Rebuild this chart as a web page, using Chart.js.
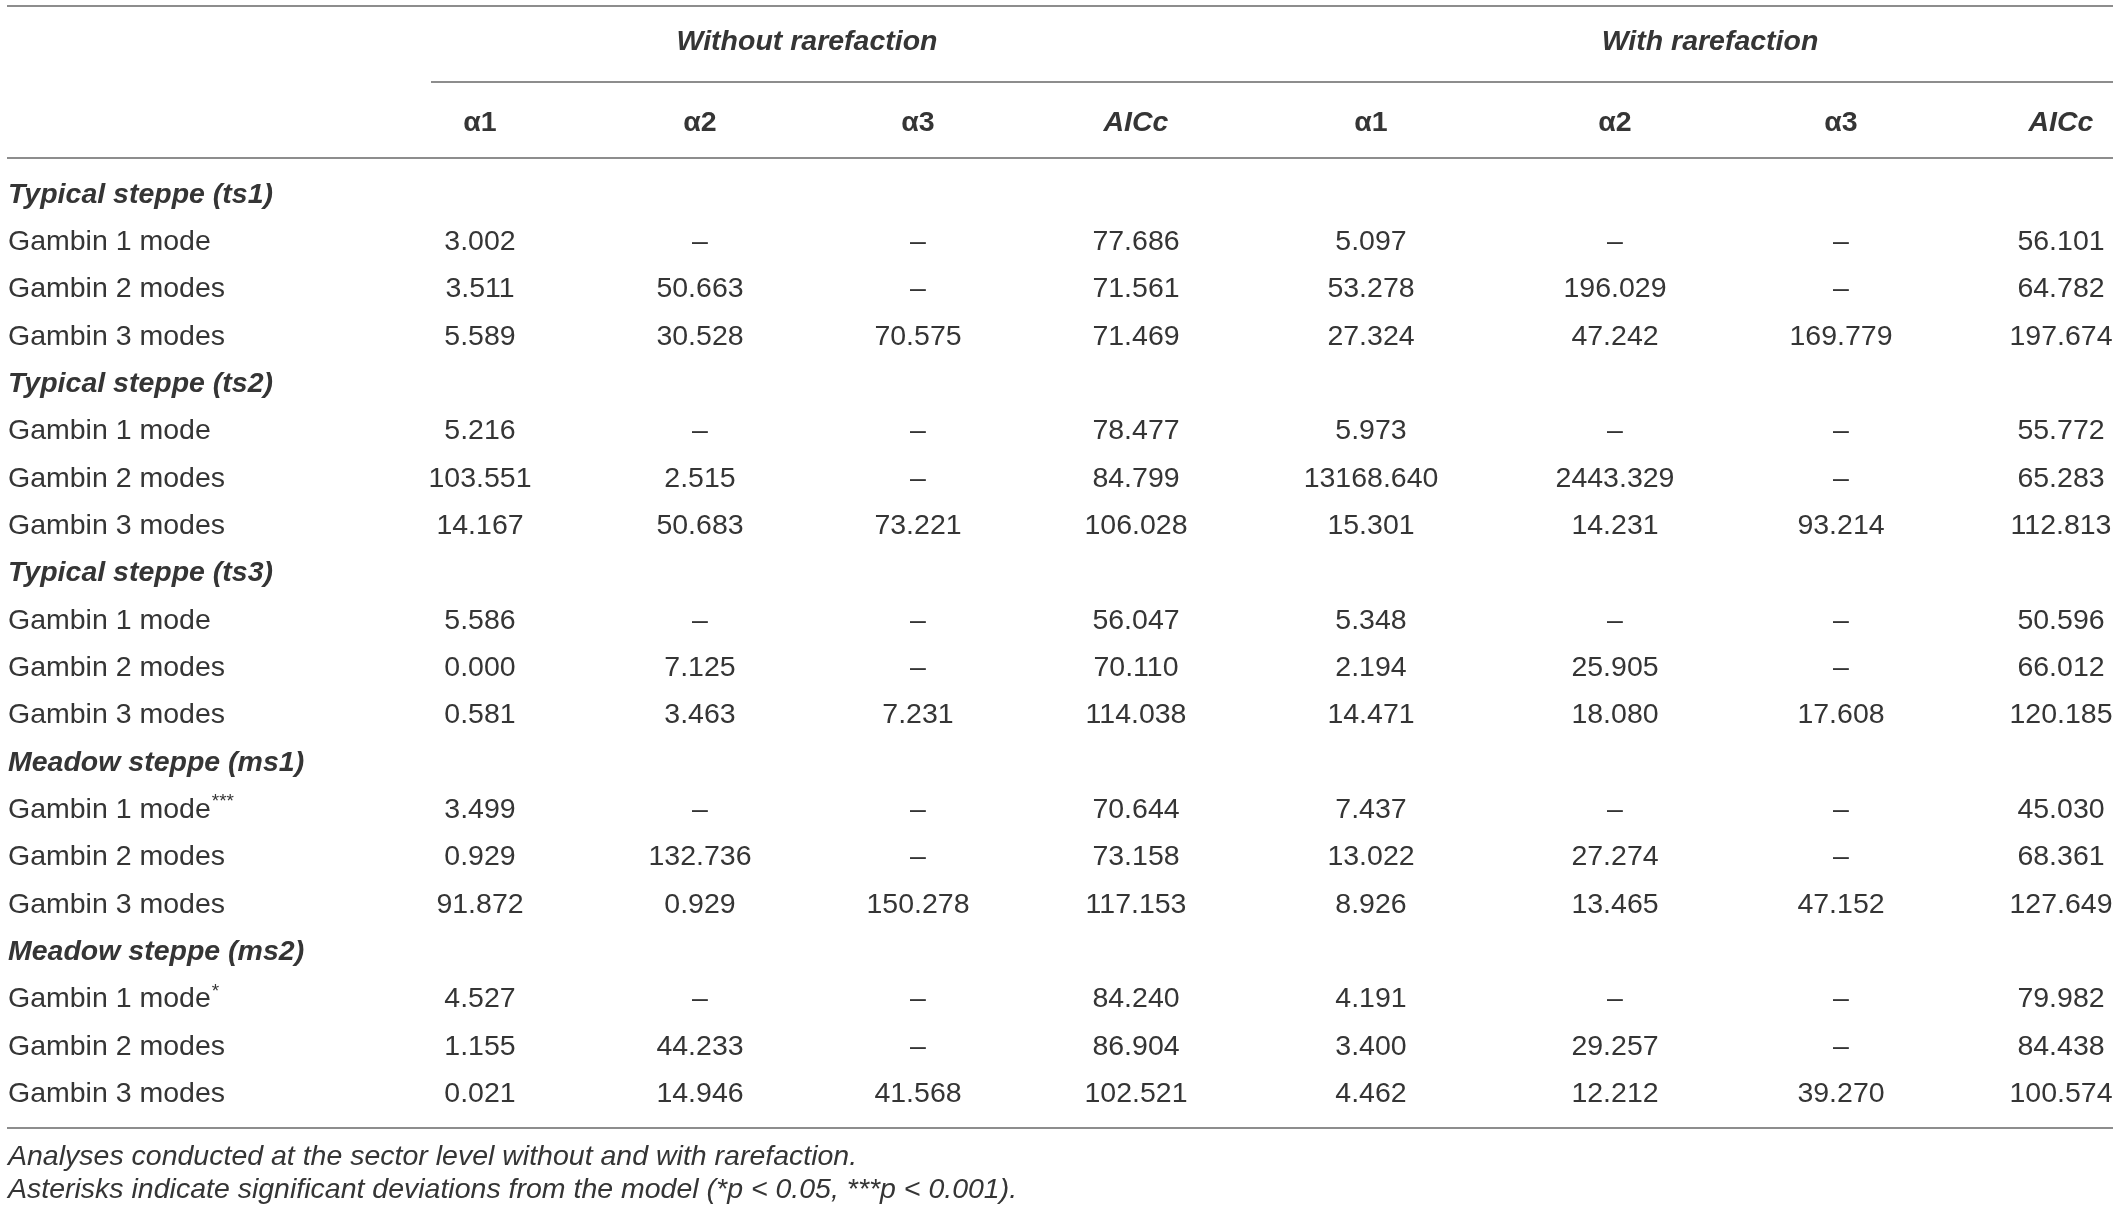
<!DOCTYPE html>
<html>
<head>
<meta charset="utf-8">
<title>Gambin fits</title>
<script src="https://cdn.jsdelivr.net/npm/chart.js@4.4.1/dist/chart.umd.min.js"></script>
<style>
html, body { margin: 0; padding: 0; background: #fff; }
#wrap { width: 2120px; height: 1215px; position: relative; }
</style>
</head>
<body>
<div id="wrap"><canvas id="table"></canvas></div>
<script>
'use strict';

// row structure
var groups = ['Typical steppe (ts1)', 'Typical steppe (ts2)', 'Typical steppe (ts3)', 'Meadow steppe (ms1)', 'Meadow steppe (ms2)'];
var models = ['Gambin 1 mode', 'Gambin 2 modes', 'Gambin 3 modes'];
// significance marks per group, per model
var marks = [['', '', ''], ['', '', ''], ['', '', ''], ['***', '', ''], ['*', '', '']];

// column structure
var columnGroups = ['Without rarefaction', 'With rarefaction'];
var columns = ['α1', 'α2', 'α3', 'AICc'];

// [α1, α2, α3, AICc], null = not estimated
var withoutRarefaction = [
    [[3.002, null, null, 77.686], [3.511, 50.663, null, 71.561], [5.589, 30.528, 70.575, 71.469]],
    [[5.216, null, null, 78.477], [103.551, 2.515, null, 84.799], [14.167, 50.683, 73.221, 106.028]],
    [[5.586, null, null, 56.047], [0.000, 7.125, null, 70.110], [0.581, 3.463, 7.231, 114.038]],
    [[3.499, null, null, 70.644], [0.929, 132.736, null, 73.158], [91.872, 0.929, 150.278, 117.153]],
    [[4.527, null, null, 84.240], [1.155, 44.233, null, 86.904], [0.021, 14.946, 41.568, 102.521]]
];
var withRarefaction = [
    [[5.097, null, null, 56.101], [53.278, 196.029, null, 64.782], [27.324, 47.242, 169.779, 197.674]],
    [[5.973, null, null, 55.772], [13168.640, 2443.329, null, 65.283], [15.301, 14.231, 93.214, 112.813]],
    [[5.348, null, null, 50.596], [2.194, 25.905, null, 66.012], [14.471, 18.080, 17.608, 120.185]],
    [[7.437, null, null, 45.030], [13.022, 27.274, null, 68.361], [8.926, 13.465, 47.152, 127.649]],
    [[4.191, null, null, 79.982], [3.400, 29.257, null, 84.438], [4.462, 12.212, 39.270, 100.574]]
];

var footnotes = [
    'Analyses conducted at the sector level without and with rarefaction.',
    'Asterisks indicate significant deviations from the model (*p < 0.05, ***p < 0.001).'
];

// ---- layout (x in page units, y in row units) ----
var labelX = 8;
var colCenters = [480, 700, 918, 1136, 1371, 1615, 1841, 2061];
var groupCenters = [807, 1710];
var ruleLeft = 7, ruleRight = 2113, groupRuleLeft = 431;
var yTopRule = -3.994, yGroupHead = -3.234, yGroupRule = -2.388, yColHead = -1.522, yHeadRule = -0.782;
var yBottomRule = 19.718, yFoot = [20.33, 21.03];

var FONT = '"Liberation Sans", Arial, Helvetica, sans-serif';
var TEXT = '#353535';
var RULE = '#8d8d8d';

function fmt(v) {
    return v === null ? '\u2013' : v.toFixed(3);
}

var tablePlugin = {
    id: 'tableText',
    afterDraw: function(chart) {
        var ctx = chart.ctx;
        var xs = chart.scales.x, ys = chart.scales.y;
        var px = function(v) { return xs.getPixelForValue(v); };
        var py = function(v) { return ys.getPixelForValue(v); };

        ctx.save();
        // rules
        ctx.strokeStyle = RULE;
        ctx.lineWidth = 2;
        [[ruleLeft, yTopRule], [groupRuleLeft, yGroupRule], [ruleLeft, yHeadRule], [ruleLeft, yBottomRule]].forEach(function(r) {
            var y = Math.round(py(r[1]));
            ctx.beginPath();
            ctx.moveTo(px(r[0]), y);
            ctx.lineTo(px(ruleRight), y);
            ctx.stroke();
        });

        ctx.fillStyle = TEXT;
        ctx.textBaseline = 'middle';

        // column group headers
        ctx.textAlign = 'center';
        ctx.font = 'italic bold 28.5px ' + FONT;
        columnGroups.forEach(function(g, i) {
            ctx.fillText(g, px(groupCenters[i]), py(yGroupHead));
        });

        // column headers
        colCenters.forEach(function(cx, i) {
            var name = columns[i % columns.length];
            ctx.font = (name === 'AICc' ? 'italic ' : '') + 'bold 28.5px ' + FONT;
            ctx.fillText(name, px(cx), py(yColHead));
        });

        // body
        var row = 0;
        groups.forEach(function(g, gi) {
            ctx.textAlign = 'left';
            ctx.font = 'italic bold 28.5px ' + FONT;
            ctx.fillText(g, px(labelX), py(row));
            row++;
            models.forEach(function(m, mi) {
                var y = py(row);
                ctx.textAlign = 'left';
                ctx.font = '28.5px ' + FONT;
                ctx.fillText(m, px(labelX), y);
                if (marks[gi][mi]) {
                    var w = ctx.measureText(m).width;
                    ctx.font = '19px ' + FONT;
                    ctx.fillText(marks[gi][mi], px(labelX) + w + 1, y - 8);
                    ctx.font = '28.5px ' + FONT;
                }
                ctx.textAlign = 'center';
                var vals = withoutRarefaction[gi][mi].concat(withRarefaction[gi][mi]);
                vals.forEach(function(v, ci) {
                    ctx.fillText(fmt(v), px(colCenters[ci]), y);
                });
                row++;
            });
        });

        // footnotes
        ctx.textAlign = 'left';
        ctx.font = 'italic 28.5px ' + FONT;
        footnotes.forEach(function(f, i) {
            ctx.fillText(f, px(labelX), py(yFoot[i]));
        });
        ctx.restore();
    }
};

var ctx = document.getElementById('table').getContext('2d');
var tableChart = new Chart(ctx, {
    type: 'scatter',
    data: { datasets: [] },
    options: {
        responsive: true,
        maintainAspectRatio: false,
        animation: false,
        layout: { padding: 0 },
        plugins: { legend: { display: false }, tooltip: { enabled: false } },
        scales: {
            x: { type: 'linear', display: false, min: 0, max: 2120 },
            y: { type: 'linear', display: false, reverse: true, min: -4.121, max: 21.557 }
        }
    },
    plugins: [tablePlugin]
});
</script>
</body>
</html>
